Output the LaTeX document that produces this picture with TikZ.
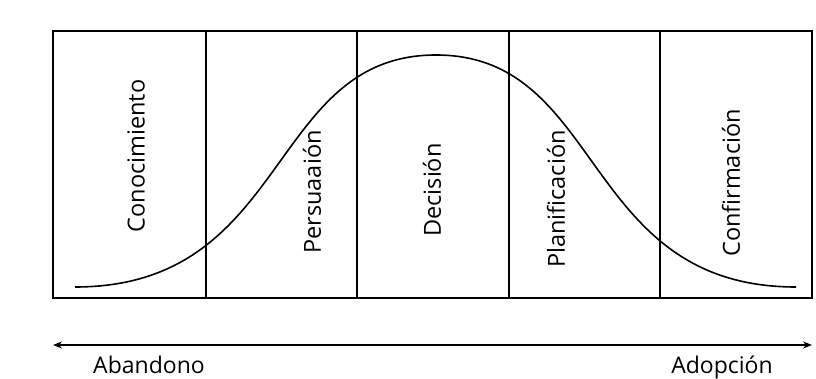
\documentclass[tikz,border=0pt]{standalone}
\usepackage{fontspec}
\setmainfont{Open Sans}
\usetikzlibrary{arrows.meta}
\begin{document}
\begin{tikzpicture}[x=1pt,y=-1pt,
  frame/.style={line width=1.4pt, black},
  curveline/.style={line width=1.6pt, black},
  stage/.style={rotate=90, inner sep=0pt, font=\fontsize{23.5}{28}\selectfont},
  endlabel/.style={inner sep=0pt, anchor=base, font=\fontsize{23}{28}\selectfont}]
\useasboundingbox (0,0) rectangle (816,379);
% frame
\coordinate (tl) at (53,31);
\coordinate (br) at (812,298);
\draw[frame] (tl) rectangle (br);
\foreach \x/\n in {206/a,357/b,509/c,660/d}{
  \coordinate (\n t) at (\x,31);
  \coordinate (\n b) at (\x,298);
  \draw[frame] (\n t) -- (\n b);
}
% bell curve
\coordinate (cs) at (75,287);
\coordinate (cp) at (436,55);
\coordinate (ce) at (796,287);
\draw[curveline] (cs) .. controls (291,287) and (267,55) .. (cp)
                 .. controls (605,55) and (581,287) .. (ce);
% stage labels
\node[stage] (s1) at (136,156) {Conocimiento};
\node[stage] (s2) at (312,192) {Persuaaión};
\node[stage] (s3) at (432,190) {Decisión};
\node[stage] (s4) at (556,199) {Planificación};
\node[stage] (s5) at (731,183) {Confirmación};
% axis arrow
\coordinate (al) at (53,345);
\coordinate (ar) at (812,345);
\draw[line width=1.4pt, {Stealth[length=9pt,width=7pt,inset=3pt]}-{Stealth[length=9pt,width=7pt,inset=3pt]}] (al) -- (ar);
\node[endlabel] (ab) at (149,373) {Abandono};
\node[endlabel] (ad) at (722,373) {Adopción};
\end{tikzpicture}
\end{document}
